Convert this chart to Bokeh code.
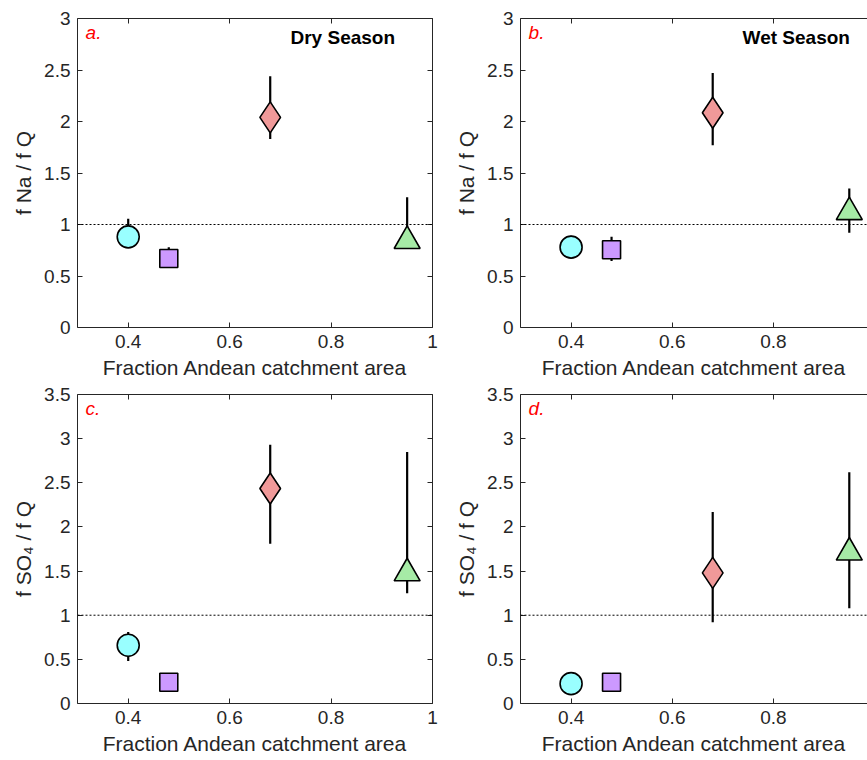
from bokeh.plotting import figure
from bokeh.layouts import column, row
from bokeh.models import (Range1d, LinearAxis, FixedTicker, CustomJSTickFormatter,
                          Span, Label, ColumnDataSource)
from bokeh.embed import file_html
from bokeh.resources import INLINE

# ---- data ----
x_frac = [0.4, 0.48, 0.68, 0.95]
markers = ["circle", "square", "diamond", "triangle"]
fills = ["#99FFFF", "#CC99FF", "#F09999", "#A6EBA6"]
sizes = [22, 18, 31, 26]

na_dry = [0.88, 0.67, 2.04, 0.84]
na_dry_hi = [1.055, 0.78, 2.44, 1.265]
na_dry_lo = [0.80, 0.62, 1.83, 0.80]

na_wet = [0.78, 0.755, 2.085, 1.12]
na_wet_hi = [0.89, 0.88, 2.47, 1.35]
na_wet_lo = [0.67, 0.645, 1.77, 0.92]

so4_dry = [0.66, 0.24, 2.435, 1.475]
so4_dry_hi = [0.81, 0.27, 2.93, 2.85]
so4_dry_lo = [0.48, 0.21, 1.81, 1.25]

so4_wet = [0.225, 0.24, 1.48, 1.71]
so4_wet_hi = [0.25, 0.27, 2.17, 2.62]
so4_wet_lo = [0.20, 0.21, 0.92, 1.08]

x_ticks = [0.4, 0.6, 0.8, 1.0]
y_ticks_na = [0, 0.5, 1, 1.5, 2, 2.5, 3]
y_ticks_so4 = [0, 0.5, 1, 1.5, 2, 2.5, 3, 3.5]

FONT = "Liberation Sans"
AXC = "#262626"


def style_axis(ax, labels=True):
    ax.axis_line_color = AXC
    ax.axis_line_width = 1
    ax.major_tick_line_color = AXC
    ax.major_tick_in = 5
    ax.major_tick_out = 0
    ax.minor_tick_line_color = None
    ax.major_label_text_font = FONT
    ax.major_label_text_font_size = "19px"
    ax.major_label_text_color = AXC
    ax.axis_label_text_font = FONT
    ax.axis_label_text_font_size = "21px"
    ax.axis_label_text_font_style = "normal"
    ax.axis_label_text_color = AXC
    if not labels:
        ax.major_label_text_font_size = "0px"
        ax.major_label_text_alpha = 0


def make_panel(yvals, ylo, yhi, yticks, ymax, ylabel, letter, title,
               left, xend, frame_w, right, top, bottom, right_axis, title_x):
    p = figure(frame_width=frame_w, frame_height=309,
               x_range=Range1d(0.3, xend), y_range=Range1d(0, ymax),
               output_backend="svg", toolbar_location=None,
               min_border_left=left, min_border_right=right,
               min_border_top=top, min_border_bottom=bottom,
               x_axis_location=None, y_axis_location=None)
    p.outline_line_color = None
    p.xgrid.visible = False
    p.ygrid.visible = False
    p.background_fill_color = "white"
    p.border_fill_color = "white"

    fmt = CustomJSTickFormatter(code="return tick.toString();")
    xb = LinearAxis(ticker=FixedTicker(ticks=x_ticks), formatter=fmt,
                    axis_label="Fraction Andean catchment area")
    style_axis(xb)
    xb.major_label_standoff = 7
    xb.axis_label_standoff = 5
    p.add_layout(xb, "below")
    xt = LinearAxis(ticker=FixedTicker(ticks=x_ticks))
    style_axis(xt, labels=False)
    p.add_layout(xt, "above")

    yl = LinearAxis(ticker=FixedTicker(ticks=yticks), formatter=fmt,
                    axis_label=ylabel)
    style_axis(yl)
    yl.major_label_standoff = 7
    yl.axis_label_standoff = 6
    p.add_layout(yl, "left")
    if right_axis:
        yr = LinearAxis(ticker=FixedTicker(ticks=yticks))
        style_axis(yr, labels=False)
        p.add_layout(yr, "right")

    p.add_layout(Span(location=1, dimension="width", line_color="black",
                      line_width=1, line_dash="2 2"))

    src = ColumnDataSource(dict(x=x_frac, y=yvals, lo=ylo, hi=yhi,
                                marker=markers, fill=fills, size=sizes))
    p.segment(x0="x", y0="lo", x1="x", y1="hi", source=src,
              line_color="black", line_width=2.2)
    p.scatter(x="x", y="y", marker="marker", size="size", fill_color="fill",
              line_color="black", line_width=1.6, source=src)

    p.add_layout(Label(x=0.316, y=ymax * 0.955, text=letter, text_color="#FF0000",
                       text_font=FONT, text_font_style="italic",
                       text_font_size="19px", text_baseline="middle"))
    if title:
        p.add_layout(Label(x=title_x, y=ymax * 0.938, text=title, text_color="black",
                           text_font=FONT, text_font_style="bold",
                           text_font_size="19px", text_baseline="middle"))
    return p


pa = make_panel(na_dry, na_dry_lo, na_dry_hi, y_ticks_na, 3, "f Na / f Q", "a.",
                "Dry Season", 77, 1.0, 355, 10, 18, 53, True, 0.72)
pb = make_panel(na_wet, na_wet_lo, na_wet_hi, y_ticks_na, 3, "f Na / f Q", "b.",
                "Wet Season", 78, 0.986, 347, 0, 18, 53, False, 0.739)
pc = make_panel(so4_dry, so4_dry_lo, so4_dry_hi, y_ticks_so4, 3.5, "f SO\u2084 / f Q", "c.",
                None, 77, 1.0, 355, 10, 13, 56, True, 0)
pd = make_panel(so4_wet, so4_wet_lo, so4_wet_hi, y_ticks_so4, 3.5, "f SO\u2084 / f Q", "d.",
                None, 78, 0.986, 347, 0, 13, 56, False, 0)

layout = column(row(pa, pb), row(pc, pd))
open("out.html", "w").write(file_html(layout, INLINE))
